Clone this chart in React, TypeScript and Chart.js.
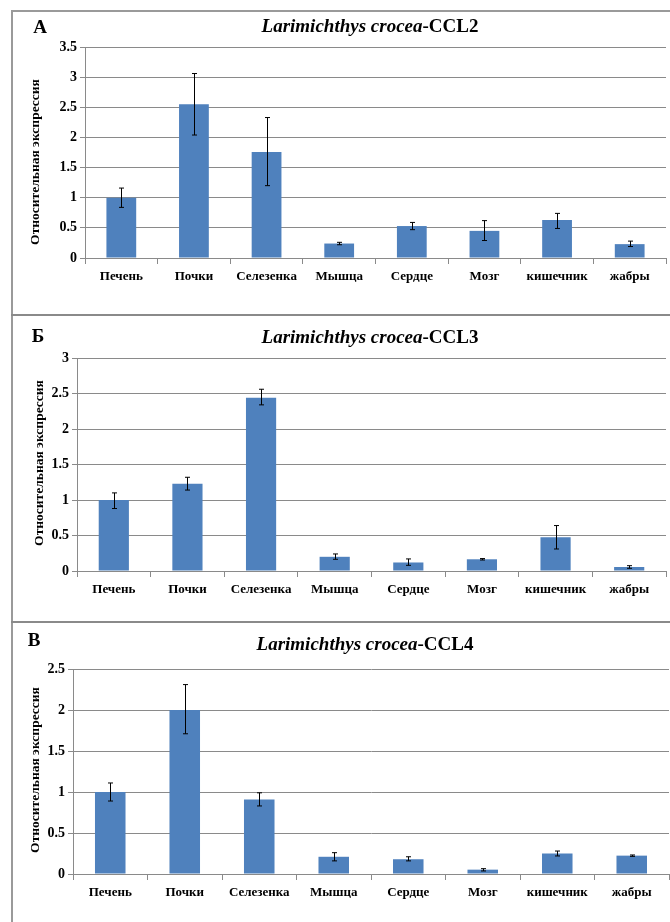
import React, { useEffect, useRef } from 'react';
import { Chart, registerables } from 'chart.js';

Chart.register(...registerables);

const categories = ['Печень', 'Почки', 'Селезенка', 'Мышца', 'Сердце', 'Мозг', 'кишечник', 'жабры'];

const ccl2Values = [1.0, 2.55, 1.76, 0.24, 0.53, 0.45, 0.63, 0.23];
const ccl2Low = [0.84, 2.04, 1.2, 0.22, 0.47, 0.29, 0.49, 0.19];
const ccl2High = [1.16, 3.06, 2.33, 0.26, 0.59, 0.62, 0.74, 0.28];

const ccl3Values = [1.0, 1.23, 2.44, 0.2, 0.12, 0.165, 0.475, 0.056];
const ccl3Low = [0.88, 1.14, 2.34, 0.165, 0.08, 0.155, 0.31, 0.038];
const ccl3High = [1.1, 1.32, 2.56, 0.24, 0.17, 0.175, 0.64, 0.075];

const ccl4Values = [1.0, 2.0, 0.91, 0.21, 0.18, 0.053, 0.25, 0.224];
const ccl4Low = [0.89, 1.71, 0.83, 0.16, 0.16, 0.037, 0.22, 0.215];
const ccl4High = [1.11, 2.31, 0.99, 0.26, 0.21, 0.065, 0.28, 0.232];

const speciesName = 'Larimichthys crocea';
const axisTitle = 'Относительная экспрессия';

const SERIF = '"Liberation Serif", "Times New Roman", serif';
const GRID = '#8a8a8a';
const BAR = '#4F81BD';
const W = 670;

type PanelProps = {
  top: number;
  height: number;
  letter: string;
  letterX: number;
  letterY: number;
  gene: string;
  titleX: number;
  titleY: number;
  values: number[];
  low: number[];
  high: number[];
  yMax: number;
  area: { left: number; right: number; top: number; bottom: number };
  axisX: number;
  axisY: number;
};

function Panel(p: PanelProps) {
  const ref = useRef<HTMLCanvasElement | null>(null);
  useEffect(() => {
    const canvas = ref.current;
    if (!canvas) return;
    const xH = 35;
    const decor = {
      id: 'decor',
      afterDatasetsDraw(chart: any) {
        const ctx = chart.ctx;
        const meta = chart.getDatasetMeta(0);
        const ys = chart.scales.y;
        ctx.save();
        ctx.strokeStyle = '#000';
        ctx.lineWidth = 1;
        meta.data.forEach((bar: any, i: number) => {
          const x = Math.round(bar.x) + 0.5;
          const yT = ys.getPixelForValue(p.high[i]);
          const yB = ys.getPixelForValue(p.low[i]);
          ctx.beginPath();
          ctx.moveTo(x, yT);
          ctx.lineTo(x, yB);
          ctx.moveTo(x - 2.5, yT);
          ctx.lineTo(x + 2.5, yT);
          ctx.moveTo(x - 2.5, yB);
          ctx.lineTo(x + 2.5, yB);
          ctx.stroke();
        });
        ctx.restore();
      },
      afterDraw(chart: any) {
        const ctx = chart.ctx;
        ctx.save();
        ctx.fillStyle = '#000';
        ctx.textBaseline = 'middle';
        ctx.font = `bold 19px ${SERIF}`;
        ctx.textAlign = 'center';
        ctx.fillText(p.letter, p.letterX, p.letterY);
        const f1 = `italic bold 19px ${SERIF}`;
        const f2 = `bold 19px ${SERIF}`;
        const t2 = '-' + p.gene;
        ctx.font = f1;
        const w1 = ctx.measureText(speciesName).width;
        ctx.font = f2;
        const w2 = ctx.measureText(t2).width;
        const sx = p.titleX - (w1 + w2) / 2;
        ctx.textAlign = 'left';
        ctx.font = f1;
        ctx.fillText(speciesName, sx, p.titleY);
        ctx.font = f2;
        ctx.fillText(t2, sx + w1, p.titleY);
        ctx.translate(p.axisX, p.axisY);
        ctx.rotate(-Math.PI / 2);
        ctx.textAlign = 'center';
        ctx.font = `bold 13.5px ${SERIF}`;
        ctx.fillText(axisTitle, 0, 0);
        ctx.restore();
      },
    };
    const chart = new Chart(canvas, {
      type: 'bar',
      data: {
        labels: categories,
        datasets: [
          {
            data: p.values,
            backgroundColor: BAR,
            borderWidth: 0,
            barPercentage: 0.41,
            categoryPercentage: 1,
          },
        ],
      },
      options: {
        animation: false,
        responsive: false,
        maintainAspectRatio: false,
        layout: {
          padding: {
            left: 0,
            right: W - p.area.right,
            top: p.area.top,
            bottom: p.height - p.area.bottom - xH,
          },
        },
        plugins: {
          legend: { display: false },
          tooltip: { enabled: false },
          title: { display: false },
        },
        scales: {
          x: {
            grid: {
              display: true,
              drawOnChartArea: false,
              drawTicks: true,
              tickLength: 6,
              color: GRID,
              offset: true,
            },
            border: { display: true, color: GRID, width: 1 },
            ticks: {
              color: '#000',
              font: { family: SERIF, size: 13, weight: 'bold' },
              padding: 5,
              maxRotation: 0,
              autoSkip: false,
            },
            afterFit: (s: any) => {
              s.height = xH;
            },
          },
          y: {
            min: 0,
            max: p.yMax,
            ticks: {
              stepSize: 0.5,
              color: '#000',
              font: { family: SERIF, size: 14, weight: 'bold' },
              padding: 3,
              callback: (v: any) => String(v),
            },
            grid: { color: GRID, tickLength: 5, lineWidth: 1 },
            border: { display: true, color: GRID, width: 1 },
            afterFit: (s: any) => {
              s.width = p.area.left;
            },
          },
        },
      } as any,
      plugins: [decor],
    });
    return () => chart.destroy();
  }, []);
  return (
    <canvas
      ref={ref}
      width={W}
      height={p.height}
      style={{ position: 'absolute', left: 0, top: p.top, width: W, height: p.height }}
    />
  );
}

export default function App() {
  const line = '#9a9a9a';
  return (
    <div style={{ position: 'absolute', left: 0, top: 0, width: W, height: 922, background: '#fff', overflow: 'hidden' }}>
      <div style={{ position: 'absolute', left: 11, top: 10, width: 1.5, height: 912, background: line }} />
      <div style={{ position: 'absolute', left: 11, top: 10, width: W - 11, height: 1.5, background: line }} />
      <div style={{ position: 'absolute', left: 11, top: 314, width: W - 11, height: 2, background: '#8a8a8a' }} />
      <div style={{ position: 'absolute', left: 11, top: 621, width: W - 11, height: 2, background: '#8a8a8a' }} />
      <Panel
        top={0}
        height={312}
        letter="А"
        letterX={40}
        letterY={28}
        gene="CCL2"
        titleX={370}
        titleY={27}
        values={ccl2Values}
        low={ccl2Low}
        high={ccl2High}
        yMax={3.5}
        area={{ left: 85, right: 666, top: 47, bottom: 258 }}
        axisX={36}
        axisY={162}
      />
      <Panel
        top={312}
        height={307}
        letter="Б"
        letterX={38}
        letterY={25}
        gene="CCL3"
        titleX={370}
        titleY={26}
        values={ccl3Values}
        low={ccl3Low}
        high={ccl3High}
        yMax={3}
        area={{ left: 77, right: 666, top: 46, bottom: 259 }}
        axisX={40}
        axisY={151}
      />
      <Panel
        top={619}
        height={303}
        letter="В"
        letterX={34}
        letterY={22}
        gene="CCL4"
        titleX={365}
        titleY={26}
        values={ccl4Values}
        low={ccl4Low}
        high={ccl4High}
        yMax={2.5}
        area={{ left: 73, right: 669, top: 50, bottom: 255 }}
        axisX={36}
        axisY={151}
      />
    </div>
  );
}
